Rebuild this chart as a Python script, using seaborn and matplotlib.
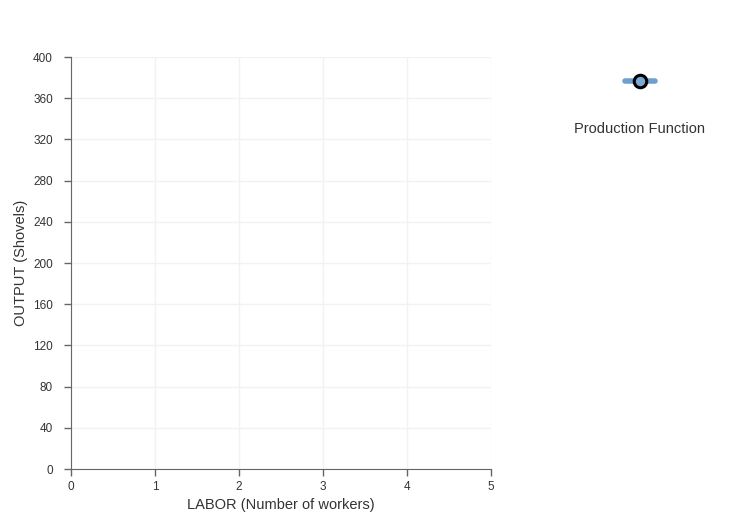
import matplotlib
matplotlib.use("Agg")
import matplotlib.pyplot as plt
import seaborn as sns
import pandas as pd

labor = []
output = []
x_ticks = [0, 1, 2, 3, 4, 5]
y_ticks = [0, 40, 80, 120, 160, 200, 240, 280, 320, 360, 400]
series_name = "Production Function"

sns.set_style("white")
plt.rcParams['font.family'] = ['Liberation Sans', 'DejaVu Sans']

fig = plt.figure(figsize=(7.39, 5.32), dpi=100)
ax = fig.add_axes([71/739, 63/532, 420/739, 412/532])

df = pd.DataFrame({"LABOR": pd.Series(labor, dtype=float), "OUTPUT": pd.Series(output, dtype=float)})
line, = ax.plot(df["LABOR"], df["OUTPUT"], color="#6f9fd0", lw=4, marker="o",
                markersize=9, markerfacecolor="#7ea8d4", markeredgecolor="black", markeredgewidth=2.2)

ax.set_xlim(0, 5)
ax.set_ylim(0, 400)
ax.set_xticks(x_ticks)
ax.set_yticks(y_ticks)
ax.grid(True, color="#f2f2f2", lw=1)
for s in ["top", "right"]:
    ax.spines[s].set_visible(False)
for s in ["left", "bottom"]:
    ax.spines[s].set_color("#666666")
ax.tick_params(axis="both", direction="out", length=5, width=1, color="#666666",
               labelsize=8.5, labelcolor="#333333", bottom=True, left=True)
ax.tick_params(axis="y", pad=8)
ax.set_xlabel("LABOR (Number of workers)", fontsize=10.5, color="#333333")
ax.set_ylabel("OUTPUT (Shovels)", fontsize=10.5, color="#333333")

fig.legend([line], [""], loc="center", bbox_to_anchor=(640/739, 1-82/532), frameon=False,
           handlelength=2.2, handletextpad=0, borderpad=0)
fig.text(640/739, 1-129/532, series_name, ha="center", va="center", fontsize=10.5, color="#333333")

fig.savefig("out.png", dpi=100)
